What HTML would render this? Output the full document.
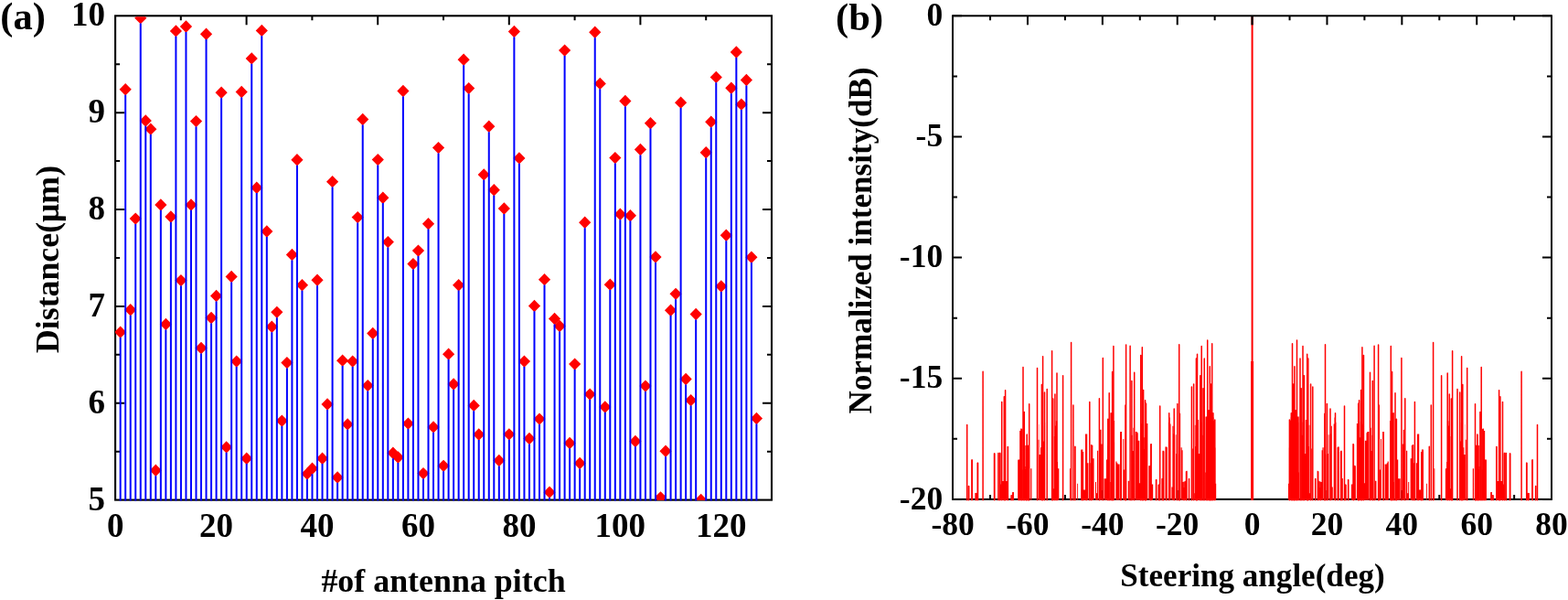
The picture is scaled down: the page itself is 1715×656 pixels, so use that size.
<!DOCTYPE html>
<html><head><meta charset="utf-8"><title>Figure</title>
<style>html,body{margin:0;padding:0;background:#fff;}body{width:1715px;height:656px;overflow:hidden;}svg{display:block;}</style>
</head><body><svg width="1715" height="656" viewBox="0 0 1715 656"><path d="M126.1 493.67H131.1M844 493.67H839M126.1 440.74H136.1M844 440.74H834M126.1 387.81H131.1M844 387.81H839M126.1 334.88H136.1M844 334.88H834M126.1 281.95H131.1M844 281.95H839M126.1 229.02H136.1M844 229.02H834M126.1 176.09H131.1M844 176.09H839M126.1 123.16H136.1M844 123.16H834M126.1 70.23H131.1M844 70.23H839M197.8 17.3V22.3M269.6 17.3V27.3M341.4 17.3V22.3M413.2 17.3V27.3M485 17.3V22.3M556.8 17.3V27.3M628.6 17.3V22.3M700.4 17.3V27.3M772.2 17.3V22.3" stroke="#000" stroke-width="2" fill="none"/><rect x="126.1" y="17.3" width="717.9" height="529.3" fill="none" stroke="#000" stroke-width="2.1"/><clipPath id="ca"><rect x="126" y="18.2" width="717.2" height="528.9"/></clipPath><path clip-path="url(#ca)" d="M131.67 356.44L138.27 363.14L131.67 369.84L125.07 363.14ZM137.19 91.05L143.79 97.75L137.19 104.45L130.59 97.75ZM142.72 332.1L149.32 338.8L142.72 345.5L136.12 338.8ZM148.24 232.38L154.84 239.08L148.24 245.78L141.64 239.08ZM153.76 12.93L160.36 19.63L153.76 26.33L147.16 19.63ZM159.28 125.25L165.88 131.95L159.28 138.65L152.68 131.95ZM164.8 134.46L171.4 141.16L164.8 147.86L158.2 141.16ZM170.33 507.61L176.93 514.31L170.33 521.01L163.73 514.31ZM175.85 217.24L182.45 223.94L175.85 230.64L169.25 223.94ZM181.37 347.87L187.97 354.57L181.37 361.27L174.77 354.57ZM186.89 230.37L193.49 237.07L186.89 243.77L180.29 237.07ZM192.41 27.22L199.01 33.92L192.41 40.62L185.81 33.92ZM197.94 299.92L204.53 306.62L197.94 313.32L191.34 306.62ZM203.46 22.35L210.06 29.05L203.46 35.75L196.86 29.05ZM208.98 217.24L215.58 223.94L208.98 230.64L202.38 223.94ZM214.5 125.88L221.1 132.58L214.5 139.28L207.9 132.58ZM220.02 373.81L226.62 380.51L220.02 387.21L213.42 380.51ZM225.54 30.5L232.14 37.2L225.54 43.9L218.94 37.2ZM231.07 340.78L237.67 347.48L231.07 354.18L224.47 347.48ZM236.59 316.85L243.19 323.55L236.59 330.25L229.99 323.55ZM242.11 94.55L248.71 101.25L242.11 107.95L235.51 101.25ZM247.63 482.21L254.23 488.91L247.63 495.61L241.03 488.91ZM253.15 295.79L259.75 302.49L253.15 309.19L246.55 302.49ZM258.68 388.41L265.28 395.11L258.68 401.81L252.08 395.11ZM264.2 93.81L270.8 100.51L264.2 107.21L257.6 100.51ZM269.72 494.49L276.32 501.19L269.72 507.89L263.12 501.19ZM275.24 57.18L281.84 63.88L275.24 70.58L268.64 63.88ZM280.76 198.5L287.36 205.2L280.76 211.9L274.16 205.2ZM286.29 26.69L292.89 33.39L286.29 40.09L279.69 33.39ZM291.81 246.35L298.41 253.05L291.81 259.75L285.21 253.05ZM297.33 350.62L303.93 357.32L297.33 364.02L290.73 357.32ZM302.85 334.64L309.45 341.34L302.85 348.04L296.25 341.34ZM308.37 453.41L314.97 460.11L308.37 466.81L301.77 460.11ZM313.9 389.9L320.5 396.6L313.9 403.3L307.3 396.6ZM319.42 271.86L326.02 278.56L319.42 285.26L312.82 278.56ZM324.94 168.12L331.54 174.82L324.94 181.52L318.34 174.82ZM330.46 305.1L337.06 311.8L330.46 318.5L323.86 311.8ZM335.98 511.42L342.58 518.12L335.98 524.82L329.38 518.12ZM341.5 505.6L348.11 512.3L341.5 519L334.9 512.3ZM347.03 299.6L353.63 306.3L347.03 313L340.43 306.3ZM352.55 494.49L359.15 501.19L352.55 507.89L345.95 501.19ZM358.07 435.31L364.67 442.01L358.07 448.71L351.47 442.01ZM363.59 191.94L370.19 198.64L363.59 205.34L356.99 198.64ZM369.11 515.23L375.71 521.93L369.11 528.63L362.51 521.93ZM374.64 387.46L381.24 394.16L374.64 400.86L368.04 394.16ZM380.16 457.22L386.76 463.92L380.16 470.62L373.56 463.92ZM385.68 388.41L392.28 395.11L385.68 401.81L379.08 395.11ZM391.2 230.89L397.8 237.59L391.2 244.29L384.6 237.59ZM396.72 123.87L403.32 130.57L396.72 137.27L390.12 130.57ZM402.25 414.88L408.85 421.58L402.25 428.28L395.65 421.58ZM407.77 357.82L414.37 364.52L407.77 371.22L401.17 364.52ZM413.29 167.91L419.89 174.61L413.29 181.31L406.69 174.61ZM418.81 209.51L425.41 216.21L418.81 222.91L412.21 216.21ZM424.33 257.89L430.93 264.59L424.33 271.29L417.73 264.59ZM429.86 488.56L436.46 495.26L429.86 501.96L423.26 495.26ZM435.38 493.32L441.98 500.02L435.38 506.72L428.78 500.02ZM440.9 92.85L447.5 99.55L440.9 106.25L434.3 99.55ZM446.42 456.38L453.02 463.08L446.42 469.78L439.82 463.08ZM451.94 281.92L458.54 288.62L451.94 295.32L445.34 288.62ZM457.47 267.42L464.07 274.12L457.47 280.82L450.87 274.12ZM462.99 510.89L469.59 517.59L462.99 524.29L456.39 517.59ZM468.51 237.99L475.11 244.69L468.51 251.39L461.91 244.69ZM474.03 460.19L480.63 466.89L474.03 473.59L467.43 466.89ZM479.55 154.89L486.15 161.59L479.55 168.29L472.95 161.59ZM485.08 502.64L491.68 509.34L485.08 516.04L478.48 509.34ZM490.6 380.47L497.2 387.17L490.6 393.87L484 387.17ZM496.12 413.29L502.72 419.99L496.12 426.69L489.52 419.99ZM501.64 305L508.24 311.7L501.64 318.4L495.04 311.7ZM507.16 58.55L513.76 65.25L507.16 71.95L500.56 65.25ZM512.68 89.89L519.28 96.59L512.68 103.29L506.08 96.59ZM518.21 436.69L524.81 443.39L518.21 450.09L511.61 443.39ZM523.73 468.34L530.33 475.04L523.73 481.74L517.13 475.04ZM529.25 184.21L535.85 190.91L529.25 197.61L522.65 190.91ZM534.77 131.6L541.37 138.3L534.77 145L528.17 138.3ZM540.29 201.04L546.89 207.74L540.29 214.44L533.69 207.74ZM545.82 496.81L552.42 503.51L545.82 510.21L539.22 503.51ZM551.34 221.37L557.94 228.07L551.34 234.77L544.74 228.07ZM556.86 468.13L563.46 474.83L556.86 481.53L550.26 474.83ZM562.38 27.86L568.98 34.56L562.38 41.26L555.78 34.56ZM567.9 166.21L574.5 172.91L567.9 179.61L561.3 172.91ZM573.43 388.41L580.03 395.11L573.43 401.81L566.83 395.11ZM578.95 472.78L585.55 479.48L578.95 486.18L572.35 479.48ZM584.47 327.76L591.07 334.46L584.47 341.16L577.87 334.46ZM589.99 451.4L596.59 458.1L589.99 464.8L583.39 458.1ZM595.51 298.96L602.11 305.66L595.51 312.36L588.91 305.66ZM601.04 531.43L607.64 538.13L601.04 544.83L594.44 538.13ZM606.56 341.84L613.16 348.54L606.56 355.24L599.96 348.54ZM612.08 349.78L618.68 356.48L612.08 363.18L605.48 356.48ZM617.6 48.39L624.2 55.09L617.6 61.79L611 55.09ZM623.12 477.76L629.72 484.46L623.12 491.16L616.52 484.46ZM628.64 391.38L635.25 398.08L628.64 404.78L622.04 398.08ZM634.17 499.78L640.77 506.48L634.17 513.18L627.57 506.48ZM639.69 236.61L646.29 243.31L639.69 250.01L633.09 243.31ZM645.21 424.41L651.81 431.11L645.21 437.81L638.61 431.11ZM650.73 28.6L657.33 35.3L650.73 42L644.13 35.3ZM656.25 84.7L662.85 91.4L656.25 98.1L649.65 91.4ZM661.78 438.27L668.38 444.97L661.78 451.67L655.18 444.97ZM667.3 304.47L673.9 311.17L667.3 317.87L660.7 311.17ZM672.82 165.9L679.42 172.6L672.82 179.3L666.22 172.6ZM678.34 227.61L684.94 234.31L678.34 241.01L671.74 234.31ZM683.86 103.86L690.46 110.56L683.86 117.26L677.26 110.56ZM689.39 228.99L695.99 235.69L689.39 242.39L682.79 235.69ZM694.91 475.75L701.51 482.45L694.91 489.15L688.31 482.45ZM700.43 156.79L707.03 163.49L700.43 170.19L693.83 163.49ZM705.95 415.41L712.55 422.11L705.95 428.81L699.35 422.11ZM711.47 128L718.07 134.7L711.47 141.4L704.87 134.7ZM717 274.3L723.6 281L717 287.7L710.4 281ZM722.52 537.15L729.12 543.85L722.52 550.55L715.92 543.85ZM728.04 486.55L734.64 493.25L728.04 499.95L721.44 493.25ZM733.56 332.52L740.16 339.22L733.56 345.92L726.96 339.22ZM739.08 314.63L745.68 321.33L739.08 328.03L732.48 321.33ZM744.61 105.45L751.21 112.15L744.61 118.85L738.01 112.15ZM750.13 407.79L756.73 414.49L750.13 421.19L743.53 414.49ZM755.65 430.97L762.25 437.67L755.65 444.37L749.05 437.67ZM761.17 336.86L767.77 343.56L761.17 350.26L754.57 343.56ZM766.69 539.69L773.29 546.39L766.69 553.09L760.09 546.39ZM772.21 160.07L778.81 166.77L772.21 173.47L765.61 166.77ZM777.74 126.62L784.34 133.32L777.74 140.02L771.14 133.32ZM783.26 77.72L789.86 84.42L783.26 91.12L776.66 84.42ZM788.78 306.37L795.38 313.07L788.78 319.77L782.18 313.07ZM794.3 250.58L800.9 257.28L794.3 263.98L787.7 257.28ZM799.82 89.57L806.42 96.27L799.82 102.97L793.22 96.27ZM805.35 50.3L811.95 57L805.35 63.7L798.75 57ZM810.87 107.46L817.47 114.16L810.87 120.86L804.27 114.16ZM816.39 80.79L822.99 87.49L816.39 94.19L809.79 87.49ZM821.91 274.51L828.51 281.21L821.91 287.91L815.31 281.21ZM827.43 450.87L834.03 457.57L827.43 464.27L820.83 457.57Z" fill="#ff0000"/><path d="M131.67 547.6V369.04M137.19 547.6V103.65M142.72 547.6V344.7M148.24 547.6V244.98M153.76 547.6V25.53M159.28 547.6V137.85M164.8 547.6V147.06M170.33 547.6V520.21M175.85 547.6V229.84M181.37 547.6V360.47M186.89 547.6V242.97M192.41 547.6V39.82M197.94 547.6V312.52M203.46 547.6V34.95M208.98 547.6V229.84M214.5 547.6V138.48M220.02 547.6V386.41M225.54 547.6V43.1M231.07 547.6V353.38M236.59 547.6V329.45M242.11 547.6V107.15M247.63 547.6V494.81M253.15 547.6V308.39M258.68 547.6V401.01M264.2 547.6V106.41M269.72 547.6V507.09M275.24 547.6V69.78M280.76 547.6V211.1M286.29 547.6V39.29M291.81 547.6V258.95M297.33 547.6V363.22M302.85 547.6V347.24M308.37 547.6V466.01M313.9 547.6V402.5M319.42 547.6V284.46M324.94 547.6V180.72M330.46 547.6V317.7M335.98 547.6V524.02M341.5 547.6V518.2M347.03 547.6V312.2M352.55 547.6V507.09M358.07 547.6V447.91M363.59 547.6V204.54M369.11 547.6V527.83M374.64 547.6V400.06M380.16 547.6V469.82M385.68 547.6V401.01M391.2 547.6V243.49M396.72 547.6V136.47M402.25 547.6V427.48M407.77 547.6V370.42M413.29 547.6V180.51M418.81 547.6V222.11M424.33 547.6V270.49M429.86 547.6V501.16M435.38 547.6V505.92M440.9 547.6V105.45M446.42 547.6V468.98M451.94 547.6V294.52M457.47 547.6V280.02M462.99 547.6V523.49M468.51 547.6V250.59M474.03 547.6V472.79M479.55 547.6V167.49M485.08 547.6V515.24M490.6 547.6V393.07M496.12 547.6V425.89M501.64 547.6V317.6M507.16 547.6V71.15M512.68 547.6V102.49M518.21 547.6V449.29M523.73 547.6V480.94M529.25 547.6V196.81M534.77 547.6V144.2M540.29 547.6V213.64M545.82 547.6V509.41M551.34 547.6V233.97M556.86 547.6V480.73M562.38 547.6V40.46M567.9 547.6V178.81M573.43 547.6V401.01M578.95 547.6V485.38M584.47 547.6V340.36M589.99 547.6V464M595.51 547.6V311.56M601.04 547.6V544.03M606.56 547.6V354.44M612.08 547.6V362.38M617.6 547.6V60.99M623.12 547.6V490.36M628.64 547.6V403.98M634.17 547.6V512.38M639.69 547.6V249.21M645.21 547.6V437.01M650.73 547.6V41.2M656.25 547.6V97.3M661.78 547.6V450.87M667.3 547.6V317.07M672.82 547.6V178.5M678.34 547.6V240.21M683.86 547.6V116.46M689.39 547.6V241.59M694.91 547.6V488.35M700.43 547.6V169.39M705.95 547.6V428.01M711.47 547.6V140.6M717 547.6V286.9M728.04 547.6V499.15M733.56 547.6V345.12M739.08 547.6V327.23M744.61 547.6V118.05M750.13 547.6V420.39M755.65 547.6V443.57M761.17 547.6V349.46M772.21 547.6V172.67M777.74 547.6V139.22M783.26 547.6V90.32M788.78 547.6V318.97M794.3 547.6V263.18M799.82 547.6V102.17M805.35 547.6V62.9M810.87 547.6V120.06M816.39 547.6V93.39M821.91 547.6V287.11M827.43 547.6V463.47" stroke="#0000ff" stroke-width="2" fill="none"/><g font-family="'Liberation Serif','Times New Roman',serif" font-weight="bold" font-size="37" fill="#000"><text x="115" y="557.7" text-anchor="end">5</text><text x="115" y="451.84" text-anchor="end">6</text><text x="115" y="345.98" text-anchor="end">7</text><text x="115" y="240.12" text-anchor="end">8</text><text x="115" y="134.26" text-anchor="end">9</text><text x="115" y="28.4" text-anchor="end">10</text><text x="126.15" y="586.7" text-anchor="middle">0</text><text x="236.59" y="586.7" text-anchor="middle">20</text><text x="347.03" y="586.7" text-anchor="middle">40</text><text x="457.47" y="586.7" text-anchor="middle">60</text><text x="567.9" y="586.7" text-anchor="middle">80</text><text x="678.34" y="586.7" text-anchor="middle">100</text><text x="788.78" y="586.7" text-anchor="middle">120</text></g><text x="485" y="646.6" text-anchor="middle" font-family="'Liberation Serif','Times New Roman',serif" font-weight="bold" font-size="35.9">#of antenna pitch</text><text transform="translate(63.8 283.5) rotate(-90)" text-anchor="middle" font-family="'Liberation Serif','Times New Roman',serif" font-weight="bold" font-size="35.8">Distance(μm)</text><text x="0.3" y="32.2" font-family="'Liberation Serif','Times New Roman',serif" font-weight="bold" font-size="42.5">(a)</text><path d="M1042 17.3H1052M1697 17.3H1687M1042 83.38H1047M1697 83.38H1692M1042 149.45H1052M1697 149.45H1687M1042 215.53H1047M1697 215.53H1692M1042 281.6H1052M1697 281.6H1687M1042 347.68H1047M1697 347.68H1692M1042 413.75H1052M1697 413.75H1687M1042 479.82H1047M1697 479.82H1692M1042 545.9H1052M1697 545.9H1687M1083.04 17.3V22.3M1083.04 545.9V540.9M1123.97 17.3V27.3M1123.97 545.9V535.9M1164.91 17.3V22.3M1164.91 545.9V540.9M1205.85 17.3V27.3M1205.85 545.9V535.9M1246.79 17.3V22.3M1246.79 545.9V540.9M1287.72 17.3V27.3M1287.72 545.9V535.9M1328.66 17.3V22.3M1328.66 545.9V540.9M1369.6 17.3V27.3M1369.6 545.9V535.9M1410.54 17.3V22.3M1410.54 545.9V540.9M1451.47 17.3V27.3M1451.47 545.9V535.9M1492.41 17.3V22.3M1492.41 545.9V540.9M1533.35 17.3V27.3M1533.35 545.9V535.9M1574.29 17.3V22.3M1574.29 545.9V540.9M1615.22 17.3V27.3M1615.22 545.9V535.9M1656.16 17.3V22.3M1656.16 545.9V540.9" stroke="#000" stroke-width="2" fill="none"/><rect x="1042" y="17.3" width="655" height="528.6" fill="none" stroke="#000" stroke-width="2"/><path d="M1409.02 546.7L1409.02 528.8L1409.88 528.8L1409.88 489.53L1410.94 489.53L1410.94 459.66L1411.8 459.66L1411.8 456.37L1412.64 456.37L1412.64 472.72L1413.79 472.72L1413.79 457.24L1414.93 457.24L1414.93 465.48L1415.91 465.48L1415.91 465.76L1416.59 465.76L1416.59 481.24L1417.56 481.24L1417.56 458.9L1418.4 458.9L1418.4 479.25L1419.31 479.25L1419.31 461.82L1420.24 461.82L1420.24 516.61L1420.98 516.61L1420.98 546.7ZM1423.54 546.7L1423.54 475.76L1424.51 475.76L1424.51 461.48L1425.82 461.48L1425.82 476.18L1426.67 476.18L1426.67 459.14L1427.32 459.14L1427.32 495.88L1428.17 495.88L1428.17 459L1429.44 459L1429.44 458.44L1430.87 458.44L1430.87 546.7ZM1430.98 546.7L1430.98 487.95L1431.59 487.95L1431.59 464.75L1432.44 464.75L1432.44 539.17L1433.05 539.17L1433.05 546.7ZM1434.27 546.7L1434.27 490.39L1435 490.39L1435 546.7ZM1438.17 546.7L1438.17 523.32L1439.15 523.32L1439.15 546.7ZM1440.61 546.7L1440.61 514.78L1441.59 514.78L1441.59 525.76L1442.8 525.76L1442.8 526.37L1443.78 526.37L1443.78 533.07L1444.63 533.07L1444.63 526.98L1445.61 526.98L1445.61 492.22L1446.46 492.22L1446.46 489.17L1447.68 489.17L1447.68 546.7ZM1449.88 546.7L1449.88 496.49L1450.37 496.49L1450.37 546.7ZM1451.95 546.7L1451.95 495.88L1452.68 495.88L1452.68 475.15L1453.54 475.15L1453.54 546.7ZM1455 546.7L1455 474.54L1455.61 474.54L1455.61 465.8L1456.83 465.8L1456.83 532.46L1457.8 532.46L1457.8 546.7ZM1458.66 546.7L1458.66 463.57L1459.55 463.57L1459.55 456.39L1460.47 456.39L1460.47 461.73L1461.34 461.73L1461.34 546.7ZM1462.93 546.7L1462.93 488.56L1464.76 488.56L1464.76 546.7ZM1465.98 546.7L1465.98 492.83L1467.8 492.83L1467.8 523.32L1468.41 523.32L1468.41 546.7ZM1470.85 546.7L1470.85 529.41L1471.83 529.41L1471.83 546.7ZM1473.9 546.7L1473.9 523.93L1475.12 523.93L1475.12 546.7ZM1478 546.7L1478 529.41L1479.46 529.41L1479.46 484.9L1480.68 484.9L1480.68 508.68L1481.66 508.68L1481.66 509.29L1482.88 509.29L1482.88 546.7ZM1483.85 546.7L1483.85 462.95L1485.35 462.95L1485.35 460.56L1486.63 460.56L1486.63 460.74L1487.15 460.74L1487.15 478.2L1488 478.2L1488 491.04L1489.33 491.04L1489.33 464.22L1490.65 464.22L1490.65 462.69L1491.68 462.69L1491.68 457.68L1492.02 457.68L1492.02 528.2L1492.88 528.2L1492.88 481.85L1494.46 481.85L1494.46 473.32L1495.32 473.32L1495.32 472.1L1497.51 472.1L1497.51 546.7ZM1498.73 546.7L1498.73 467.83L1499.71 467.83L1499.71 493.05L1500.56 493.05L1500.56 475.76L1501.78 475.76L1501.78 546.7ZM1503.85 546.7L1503.85 525.76L1505.44 525.76L1505.44 546.7ZM1509.1 546.7L1509.1 513.56L1509.95 513.56L1509.95 480.02L1510.93 480.02L1510.93 546.7ZM1512.15 546.7L1512.15 472.1L1513.98 472.1L1513.98 546.7ZM1514.59 546.7L1514.59 507.46L1516.78 507.46L1516.78 506.24L1517.63 506.24L1517.63 504.41L1518.85 504.41L1518.85 546.7ZM1520.07 546.7L1520.07 459.91L1520.98 459.91L1520.98 483.48L1522.47 483.48L1522.47 464.19L1523.71 464.19L1523.71 526.98L1524.95 526.98L1524.95 546.7ZM1527.02 546.7L1527.02 487.34L1528 487.34L1528 502.59L1529.22 502.59L1529.22 523.32L1530.44 523.32L1530.44 523.32L1531.66 523.32L1531.66 546.7ZM1533.49 546.7L1533.49 485.51L1534.71 485.51L1534.71 469.66L1536.29 469.66L1536.29 546.7ZM1538 546.7L1538 492.83L1539.22 492.83L1539.22 539.17L1540.2 539.17L1540.2 526.98L1541.17 526.98L1541.17 546.7ZM1542.63 546.7L1542.63 501.37L1543.85 501.37L1543.85 486.73L1544.83 486.73L1544.83 486.73L1546.05 486.73L1546.05 506.24L1546.9 506.24L1546.9 546.7ZM1548.73 546.7L1548.73 506.24L1549.95 506.24L1549.95 474.54L1550.93 474.54L1550.93 546.7ZM1551 546.7L1551 474.54L1552.22 474.54L1552.22 535.51L1554.05 535.51L1554.05 494.05L1554.9 494.05L1554.9 491.61L1556.85 491.61L1556.85 546.7ZM1560.15 546.7L1560.15 528.8L1561 528.8L1561 546.7ZM1562.95 546.7L1562.95 487.95L1563.93 487.95L1563.93 546.7ZM1568.32 546.7L1568.32 512.34L1569.29 512.34L1569.29 546.7ZM1580.88 546.7L1580.88 512.34L1582.1 512.34L1582.1 505.02L1582.95 505.02L1582.95 460.15L1584.44 460.15L1584.44 465.58L1585.53 465.58L1585.53 476.96L1586.37 476.96L1586.37 534.29L1587.22 534.29L1587.22 546.7ZM1596.12 546.7L1596.12 461.89L1597.11 461.89L1597.11 482.57L1598.12 482.57L1598.12 465.53L1599.21 465.53L1599.21 462.18L1599.78 462.18L1599.78 489.17L1601.24 489.17L1601.24 496.99L1602.58 496.99L1602.58 463.98L1602.83 463.98L1602.83 480.63L1603.68 480.63L1603.68 546.7ZM1610.76 546.7L1610.76 512.34L1611.98 512.34L1611.98 546.7ZM1614.41 546.7L1614.41 486.73L1615.39 486.73L1615.39 474.54L1616.24 474.54L1616.24 512.95L1617.46 512.95L1617.46 509.9L1618.68 509.9L1618.68 546.7ZM1620.51 546.7L1620.51 513.56L1621.73 513.56L1621.73 468.44L1622.95 468.44L1622.95 470.88L1624.17 470.88L1624.17 502.59L1625.83 502.59L1625.83 546.7ZM1630.34 546.7L1630.34 537.95L1631.93 537.95L1631.93 541L1632.78 541L1632.78 546.7ZM1636.2 546.7L1636.2 487.95L1637.41 487.95L1637.41 526L1638.63 526L1638.63 526L1643.51 526L1643.51 529.41L1644.73 529.41L1644.73 494.66L1646.56 494.66L1646.56 546.7ZM1650.83 546.7L1650.83 495.27L1652.29 495.27L1652.29 546.7ZM1669.12 546.7L1669.12 505.63L1670.59 505.63L1670.59 539.17L1671.56 539.17L1671.56 538.93L1672.78 538.93L1672.78 546.7ZM1675.22 546.7L1675.22 502.59L1676.68 502.59L1676.68 546.7ZM1678.88 546.7L1678.88 531.24L1679.85 531.24L1679.85 546.7ZM1059.35 546.7L1059.35 531.24L1060.32 531.24L1060.32 546.7ZM1062.52 546.7L1062.52 502.59L1063.98 502.59L1063.98 546.7ZM1066.42 546.7L1066.42 538.93L1067.64 538.93L1067.64 539.17L1068.61 539.17L1068.61 505.63L1070.08 505.63L1070.08 546.7ZM1086.91 546.7L1086.91 495.27L1088.37 495.27L1088.37 546.7ZM1092.64 546.7L1092.64 494.66L1094.47 494.66L1094.47 529.41L1095.69 529.41L1095.69 526L1100.57 526L1100.57 526L1101.79 526L1101.79 487.95L1103 487.95L1103 546.7ZM1106.42 546.7L1106.42 541L1107.27 541L1107.27 537.95L1108.86 537.95L1108.86 546.7ZM1113.37 546.7L1113.37 502.59L1115.2 502.59L1115.2 470.88L1116.25 470.88L1116.25 468.44L1117.47 468.44L1117.47 513.56L1118.69 513.56L1118.69 546.7ZM1120.52 546.7L1120.52 509.9L1121.74 509.9L1121.74 512.95L1122.96 512.95L1122.96 474.54L1123.81 474.54L1123.81 486.73L1124.79 486.73L1124.79 546.7ZM1127.22 546.7L1127.22 512.34L1128.44 512.34L1128.44 546.7ZM1135.52 546.7L1135.52 480.63L1136.37 480.63L1136.37 463.98L1136.62 463.98L1136.62 496.99L1137.96 496.99L1137.96 489.17L1139.42 489.17L1139.42 462.18L1139.99 462.18L1139.99 465.53L1141.08 465.53L1141.08 482.57L1142.09 482.57L1142.09 461.89L1143.08 461.89L1143.08 546.7ZM1151.98 546.7L1151.98 534.29L1152.83 534.29L1152.83 476.96L1153.67 476.96L1153.67 465.58L1154.76 465.58L1154.76 460.15L1156.25 460.15L1156.25 505.02L1157.1 505.02L1157.1 512.34L1158.32 512.34L1158.32 546.7ZM1169.91 546.7L1169.91 512.34L1170.88 512.34L1170.88 546.7ZM1175.27 546.7L1175.27 487.95L1176.25 487.95L1176.25 546.7ZM1178.2 546.7L1178.2 528.8L1179.05 528.8L1179.05 546.7ZM1182.35 546.7L1182.35 491.61L1184.3 491.61L1184.3 494.05L1185.15 494.05L1185.15 535.51L1186.98 535.51L1186.98 474.54L1188.2 474.54L1188.2 546.7ZM1188.27 546.7L1188.27 474.54L1189.25 474.54L1189.25 506.24L1190.47 506.24L1190.47 546.7ZM1192.3 546.7L1192.3 506.24L1193.15 506.24L1193.15 486.73L1194.37 486.73L1194.37 486.73L1195.35 486.73L1195.35 501.37L1196.57 501.37L1196.57 546.7ZM1198.03 546.7L1198.03 526.98L1199 526.98L1199 539.17L1199.98 539.17L1199.98 492.83L1201.2 492.83L1201.2 546.7ZM1202.91 546.7L1202.91 469.66L1204.49 469.66L1204.49 485.51L1205.71 485.51L1205.71 546.7ZM1207.54 546.7L1207.54 523.32L1208.76 523.32L1208.76 523.32L1209.98 523.32L1209.98 502.59L1211.2 502.59L1211.2 487.34L1212.18 487.34L1212.18 546.7ZM1214.25 546.7L1214.25 526.98L1215.47 526.98L1215.47 464.19L1216.73 464.19L1216.73 483.48L1218.22 483.48L1218.22 459.91L1219.13 459.91L1219.13 546.7ZM1220.35 546.7L1220.35 504.41L1221.57 504.41L1221.57 506.24L1222.42 506.24L1222.42 507.46L1224.61 507.46L1224.61 546.7ZM1225.22 546.7L1225.22 472.1L1227.05 472.1L1227.05 546.7ZM1228.27 546.7L1228.27 480.02L1229.25 480.02L1229.25 513.56L1230.1 513.56L1230.1 546.7ZM1233.76 546.7L1233.76 525.76L1235.35 525.76L1235.35 546.7ZM1237.42 546.7L1237.42 475.76L1238.64 475.76L1238.64 493.05L1239.49 493.05L1239.49 467.83L1240.47 467.83L1240.47 546.7ZM1241.69 546.7L1241.69 472.1L1243.88 472.1L1243.88 473.32L1244.74 473.32L1244.74 481.85L1246.32 481.85L1246.32 528.2L1247.18 528.2L1247.18 457.68L1247.52 457.68L1247.52 462.69L1248.55 462.69L1248.55 464.22L1249.87 464.22L1249.87 491.04L1251.2 491.04L1251.2 478.2L1252.05 478.2L1252.05 460.74L1252.57 460.74L1252.57 460.56L1253.85 460.56L1253.85 462.95L1255.35 462.95L1255.35 546.7ZM1256.32 546.7L1256.32 509.29L1257.54 509.29L1257.54 508.68L1258.52 508.68L1258.52 484.9L1259.74 484.9L1259.74 529.41L1261.2 529.41L1261.2 546.7ZM1264.08 546.7L1264.08 523.93L1265.3 523.93L1265.3 546.7ZM1267.37 546.7L1267.37 529.41L1268.35 529.41L1268.35 546.7ZM1270.79 546.7L1270.79 523.32L1271.4 523.32L1271.4 492.83L1273.22 492.83L1273.22 546.7ZM1274.44 546.7L1274.44 488.56L1276.27 488.56L1276.27 546.7ZM1277.86 546.7L1277.86 461.73L1278.73 461.73L1278.73 456.39L1279.65 456.39L1279.65 463.57L1280.54 463.57L1280.54 546.7ZM1281.4 546.7L1281.4 532.46L1282.37 532.46L1282.37 465.8L1283.59 465.8L1283.59 474.54L1284.2 474.54L1284.2 546.7ZM1285.66 546.7L1285.66 475.15L1286.52 475.15L1286.52 495.88L1287.25 495.88L1287.25 546.7ZM1288.83 546.7L1288.83 496.49L1289.32 496.49L1289.32 546.7ZM1291.52 546.7L1291.52 489.17L1292.74 489.17L1292.74 492.22L1293.59 492.22L1293.59 526.98L1294.57 526.98L1294.57 533.07L1295.42 533.07L1295.42 526.37L1296.4 526.37L1296.4 525.76L1297.61 525.76L1297.61 514.78L1298.59 514.78L1298.59 546.7ZM1300.05 546.7L1300.05 523.32L1301.03 523.32L1301.03 546.7ZM1304.2 546.7L1304.2 490.39L1304.93 490.39L1304.93 546.7ZM1306.15 546.7L1306.15 539.17L1306.76 539.17L1306.76 464.75L1307.61 464.75L1307.61 487.95L1308.22 487.95L1308.22 546.7ZM1308.33 546.7L1308.33 458.44L1309.76 458.44L1309.76 459L1311.03 459L1311.03 495.88L1311.88 495.88L1311.88 459.14L1312.53 459.14L1312.53 476.18L1313.38 476.18L1313.38 461.48L1314.69 461.48L1314.69 475.76L1315.66 475.76L1315.66 546.7ZM1318.22 546.7L1318.22 516.61L1318.96 516.61L1318.96 461.82L1319.89 461.82L1319.89 479.25L1320.8 479.25L1320.8 458.9L1321.64 458.9L1321.64 481.24L1322.61 481.24L1322.61 465.76L1323.29 465.76L1323.29 465.48L1324.27 465.48L1324.27 457.24L1325.41 457.24L1325.41 472.72L1326.56 472.72L1326.56 456.37L1327.4 456.37L1327.4 459.66L1328.26 459.66L1328.26 489.53L1329.32 489.53L1329.32 528.8L1330.18 528.8L1330.18 546.7Z" fill="#ff0000"/><path d="M1410.4 546.7V459M1328.8 546.7V459M1412.3 546.7V451.7M1326.9 546.7V451.7M1413.5 546.7V375.7M1325.7 546.7V375.7M1414.9 546.7V419.9M1324.3 546.7V419.9M1415.9 546.7V400.8M1323.3 546.7V400.8M1417.1 546.7V448.8M1322.1 546.7V448.8M1418.5 546.7V372.1M1320.7 546.7V372.1M1420 546.7V456.1M1319.2 546.7V456.1M1422 546.7V392M1317.2 546.7V392M1423.2 546.7V424.7M1316 546.7V424.7M1425 546.7V378.6M1314.2 546.7V378.6M1426.4 546.7V410.8M1312.8 546.7V410.8M1429.7 546.7V387.3M1309.5 546.7V387.3M1430.8 546.7V392.1M1308.4 546.7V392.1M1433.6 546.7V419.9M1305.6 546.7V419.9M1435.8 546.7V423.1M1303.4 546.7V423.1M1438.7 546.7V523.6M1300.5 546.7V523.6M1441.7 546.7V515.7M1297.5 546.7V515.7M1444.2 546.7V527.3M1295 546.7V527.3M1448.8 546.7V452.2M1290.4 546.7V452.2M1449.5 546.7V376.7M1289.7 546.7V376.7M1451.4 546.7V441.6M1287.8 546.7V441.6M1455 546.7V447M1284.2 546.7V447M1460.5 546.7V451.7M1278.7 546.7V451.7M1463.3 546.7V489.6M1275.9 546.7V489.6M1466.6 546.7V494M1272.6 546.7V494M1468 546.7V523.6M1271.2 546.7V523.6M1470.5 546.7V444.1M1268.7 546.7V444.1M1472 546.7V530.2M1267.2 546.7V530.2M1474.7 546.7V524.8M1264.5 546.7V524.8M1480.4 546.7V486M1258.8 546.7V486M1485.7 546.7V441.2M1253.5 546.7V441.2M1486.6 546.7V437.7M1252.6 546.7V437.7M1488.6 546.7V426.4M1250.6 546.7V426.4M1489.9 546.7V379.8M1249.3 546.7V379.8M1491.5 546.7V388.5M1247.7 546.7V388.5M1498.5 546.7V407.3M1240.7 546.7V407.3M1501.3 546.7V416.6M1237.9 546.7V416.6M1503.1 546.7V378.2M1236.1 546.7V378.2M1507.6 546.7V376.9M1231.6 546.7V376.9M1508.3 546.7V443.1M1230.9 546.7V443.1M1513.2 546.7V472.7M1226 546.7V472.7M1521.3 546.7V378.6M1217.9 546.7V378.6M1522.6 546.7V406.6M1216.6 546.7V406.6M1524.1 546.7V451.7M1215.1 546.7V451.7M1526 546.7V429.7M1213.2 546.7V429.7M1527.4 546.7V458.3M1211.8 546.7V458.3M1532.9 546.7V391.4M1206.3 546.7V391.4M1536.8 546.7V435.8M1202.4 546.7V435.8M1545.5 546.7V486.7M1193.7 546.7V486.7M1547.4 546.7V439.4M1191.8 546.7V439.4M1551.1 546.7V475.9M1188.1 546.7V475.9M1554.4 546.7V536.7M1184.8 546.7V536.7M1556 546.7V492.6M1183.2 546.7V492.6M1563.3 546.7V488.2M1175.9 546.7V488.2M1565.3 546.7V443.1M1173.9 546.7V443.1M1567.6 546.7V374.6M1171.6 546.7V374.6M1576.6 546.7V410.8M1162.6 546.7V410.8M1583.2 546.7V408M1156 546.7V408M1585.3 546.7V431.1M1153.9 546.7V431.1M1587.4 546.7V435.9M1151.8 546.7V435.9M1588.6 546.7V383.7M1150.6 546.7V383.7M1594 546.7V425.4M1145.2 546.7V425.4M1596.7 546.7V429.1M1142.5 546.7V429.1M1598.6 546.7V389.8M1140.6 546.7V389.8M1599.8 546.7V420.6M1139.4 546.7V420.6M1604.7 546.7V402.5M1134.5 546.7V402.5M1613.5 546.7V441.7M1125.7 546.7V441.7M1614.5 546.7V487.5M1124.7 546.7V487.5M1616 546.7V475.2M1123.2 546.7V475.2M1617.1 546.7V487.5M1122.1 546.7V487.5M1618.9 546.7V450.6M1120.3 546.7V450.6M1620.2 546.7V401.5M1119 546.7V401.5M1621.8 546.7V469.4M1117.4 546.7V469.4M1623.2 546.7V503.4M1116 546.7V503.4M1625 546.7V503.4M1114.2 546.7V503.4M1631.2 546.7V538.9M1108 546.7V538.9M1633.1 546.7V541.8M1106.1 546.7V541.8M1636.8 546.7V488.6M1102.4 546.7V488.6M1639.6 546.7V426.7M1099.6 546.7V426.7M1640.9 546.7V433.7M1098.3 546.7V433.7M1643.5 546.7V439.5M1095.7 546.7V439.5M1645.5 546.7V495.9M1093.7 546.7V495.9M1647.3 546.7V495.4M1091.9 546.7V495.4M1651.6 546.7V496.2M1087.6 546.7V496.2M1664.1 546.7V406.2M1075.1 546.7V406.2M1669.7 546.7V506.3M1069.5 546.7V506.3M1671.6 546.7V539.6M1067.6 546.7V539.6M1676.2 546.7V503.1M1063 546.7V503.1M1679.7 546.7V531.6M1059.5 546.7V531.6M1681.5 546.7V464.6M1057.7 546.7V464.6" stroke="#ff0000" stroke-width="1.5" stroke-linecap="round" fill="none"/><path d="M1369.6 546.7V18.3" stroke="#ff0000" stroke-width="2" fill="none"/><path d="M1369.6 546.7V395" stroke="#ff0000" stroke-width="3" fill="none"/><path d="M1369.6 17.3V27.3" stroke="#000" stroke-width="2"/><g font-family="'Liberation Serif','Times New Roman',serif" font-weight="bold" font-size="35.5" fill="#000"><text x="1031.2" y="27.9" text-anchor="end">0</text><text x="1031.2" y="160.05" text-anchor="end">-5</text><text x="1031.2" y="292.2" text-anchor="end">-10</text><text x="1031.2" y="424.35" text-anchor="end">-15</text><text x="1031.2" y="556.5" text-anchor="end">-20</text><text x="1042.1" y="585" text-anchor="middle">-80</text><text x="1123.97" y="585" text-anchor="middle">-60</text><text x="1205.85" y="585" text-anchor="middle">-40</text><text x="1287.72" y="585" text-anchor="middle">-20</text><text x="1369.6" y="585" text-anchor="middle">0</text><text x="1451.47" y="585" text-anchor="middle">20</text><text x="1533.35" y="585" text-anchor="middle">40</text><text x="1615.22" y="585" text-anchor="middle">60</text><text x="1697.1" y="585" text-anchor="middle">80</text></g><text x="1370" y="641.4" text-anchor="middle" font-family="'Liberation Serif','Times New Roman',serif" font-weight="bold" font-size="35.1">Steering angle(deg)</text><text transform="translate(952.7 263) rotate(-90)" text-anchor="middle" font-family="'Liberation Serif','Times New Roman',serif" font-weight="bold" font-size="35.1">Normalized intensity(dB)</text><text x="914.1" y="33" font-family="'Liberation Serif','Times New Roman',serif" font-weight="bold" font-size="42.5">(b)</text></svg></body></html>
